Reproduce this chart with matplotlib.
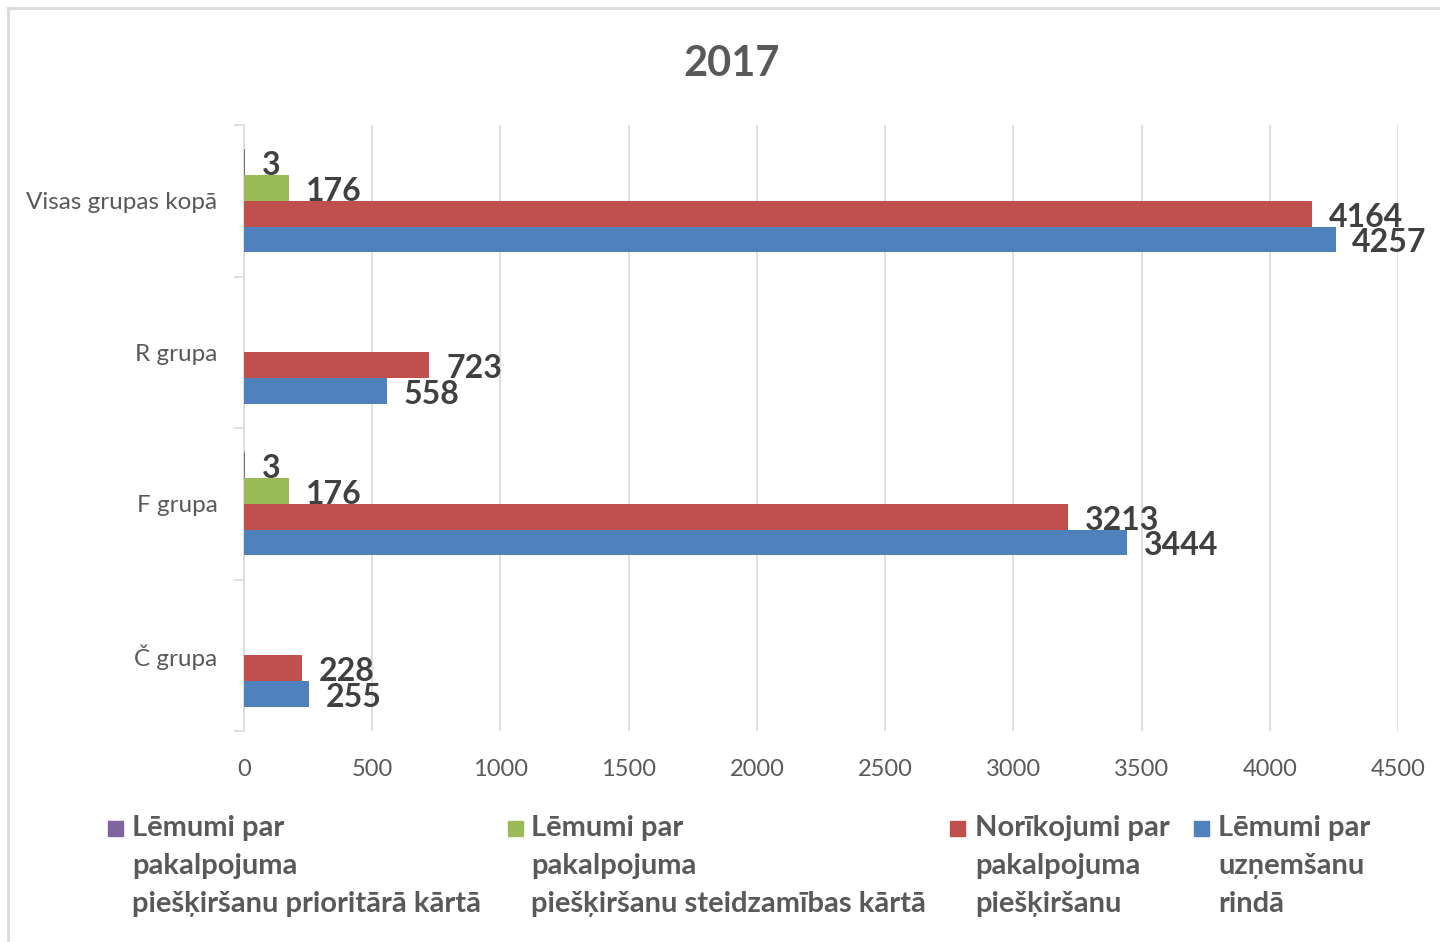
import numpy as np
import matplotlib
matplotlib.use("Agg")
import matplotlib.pyplot as plt
from matplotlib.patches import Rectangle
from matplotlib.lines import Line2D

plt.rcParams['font.family'] = ['Lato', 'DejaVu Sans']

title = "2017"
categories = ["Č grupa", "F grupa", "R grupa", "Visas grupas kopā"]
series_names = [
    "Lēmumi par\npakalpojuma\npiešķiršanu prioritārā kārtā",
    "Lēmumi par\npakalpojuma\npiešķiršanu steidzamības kārtā",
    "Norīkojumi par\npakalpojuma\npiešķiršanu",
    "Lēmumi par\nuzņemšanu\nrindā",
]
prioritara = [np.nan, 3, np.nan, 3]
steidzamibas = [np.nan, 176, np.nan, 176]
norikojumi = [228, 3213, 723, 4164]
uznemsana = [255, 3444, 558, 4257]
xticks = [0, 500, 1000, 1500, 2000, 2500, 3000, 3500, 4000, 4500]

colors = ["#8064A2", "#9BBB59", "#C0504D", "#4F81BD"]
series = [prioritara, steidzamibas, norikojumi, uznemsana]
offsets = [1.5, 0.5, -0.5, -1.5]
h = 0.17

W, H = 1440, 942
fig = plt.figure(figsize=(W / 100, H / 100), dpi=100)
ax = fig.add_axes([244 / W, 1 - 731 / H, (1398 - 244) / W, (731 - 125) / H])

y = np.arange(len(categories))
for vals, col, off in zip(series, colors, offsets):
    v = np.array(vals, dtype=float)
    ax.barh(y + off * h, np.nan_to_num(v), height=h, color=col, zorder=3)
    for yi, vi in zip(y, v):
        if np.isnan(vi):
            continue
        ax.annotate(f"{int(vi)}", xy=(vi, yi + off * h), xytext=(12, -2.5),
                    textcoords="offset points", va="center", ha="left",
                    fontsize=23, fontweight="bold", color="#404040", zorder=5)

ax.set_xlim(0, 4500)
ax.set_ylim(-0.5, len(categories) - 0.5)
ax.set_xticks(xticks)
ax.set_xticklabels([str(t) for t in xticks])
ax.xaxis.grid(True, color="#D9D9D9", linewidth=1.2, zorder=0)
ax.tick_params(axis="x", length=0, pad=20.5, labelsize=17, labelcolor="#595959")

ax.set_yticks(np.arange(-0.5, len(categories), 1.0))
ax.set_yticklabels([])
ax.set_yticks(y, minor=True)
ax.set_yticklabels(categories, minor=True)
ax.tick_params(axis="y", which="major", length=7, color="#D9D9D9", width=1.2)
ax.tick_params(axis="y", which="minor", length=0, pad=19, labelsize=17.5, labelcolor="#595959")

for s in ["top", "right", "bottom"]:
    ax.spines[s].set_visible(False)
ax.spines["left"].set_color("#D9D9D9")
ax.spines["left"].set_linewidth(1.2)

fig.text(732 / W, 1 - 64 / H, title, ha="center", va="center", fontsize=30,
         fontweight="bold", color="#595959")

# legend
sq_x = [108, 508, 950, 1194]
txt_x = [132, 531, 975, 1218]
for sx, tx, col, name in zip(sq_x, txt_x, colors, series_names):
    fig.patches.append(Rectangle((sx / W, 1 - 836 / H), 15 / W, 15 / H,
                                 transform=fig.transFigure, color=col))
    fig.text(tx / W, 1 - 815 / H, name, ha="left", va="top", fontsize=21,
             fontweight="bold", color="#595959", linespacing=1.58)

# chart border
fig.add_artist(Line2D([8 / W, 8 / W], [0, 1 - 8 / H], transform=fig.transFigure,
                      color="#D9D9D9", linewidth=2))
fig.add_artist(Line2D([8 / W, 1], [1 - 8 / H, 1 - 8 / H], transform=fig.transFigure,
                      color="#D9D9D9", linewidth=2))

fig.savefig("out.png", dpi=100)
